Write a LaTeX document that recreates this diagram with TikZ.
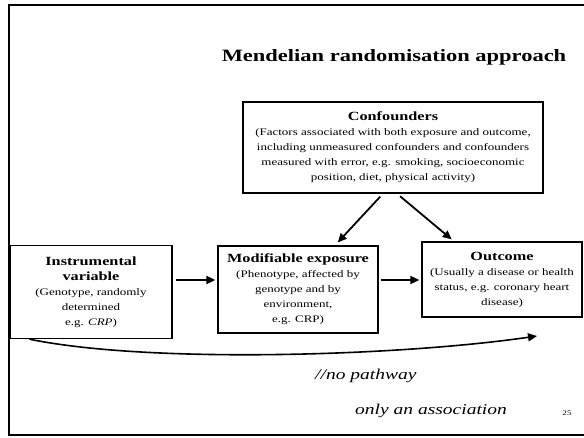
\documentclass[tikz,border=0pt]{standalone}
\usepackage{fontspec}
\setmainfont[FakeStretch=1.3]{Liberation Serif}
\usetikzlibrary{arrows.meta}
\begin{document}
\begin{tikzpicture}[x=1pt,y=-1pt,
  box/.style={draw, line width=1.3pt, align=center, inner sep=0pt, font=\fontsize{10}{15}\selectfont},
  bt/.style={},
  arr/.style={line width=1.8pt, -{Triangle[length=9pt,width=8pt]}},
  hand/.style={font=\fontsize{15}{18}\selectfont\itshape, inner sep=0pt}]
\useasboundingbox (0,0) rectangle (584,438);
\draw[line width=2pt] (584,5) -- (9,5) -- (9,435) -- (584,435);
\node[font=\fontsize{17.3}{20}\selectfont\bfseries] (title) at (394,57) {Mendelian randomisation approach};
\node[box, minimum width=300pt, minimum height=91pt] (conf) at (393,147.5)
  {{\fontsize{12.5}{16}\selectfont\bfseries Confounders}\\
   (Factors associated with both exposure and outcome,\\
   including unmeasured confounders and confounders\\
   measured with error, e.g. smoking, socioeconomic\\
   position, diet, physical activity)};
\node[box, minimum width=162pt, minimum height=93pt] (inst) at (91,292)
  {{\fontsize{12.5}{16}\selectfont\bfseries Instrumental}\\
   {\fontsize{12.5}{16}\selectfont\bfseries variable}\\
   (Genotype, randomly\\ determined\\ e.g. \textit{CRP})};
\node[box, minimum width=160pt, minimum height=87pt] (mod) at (298,289.5)
  {{\fontsize{12.5}{16}\selectfont\bfseries Modifiable exposure}\\
   (Phenotype, affected by\\ genotype and by\\ environment,\\ e.g. CRP)};
\node[box, minimum width=160pt, minimum height=75pt] (out) at (502,279.5)
  {{\fontsize{12.5}{16}\selectfont\bfseries Outcome}\\
   (Usually a disease or health\\ status, e.g. coronary heart\\ disease)};
\coordinate (row) at (0,280);
\draw[arr, shorten <=3pt, shorten >=2pt] (inst.east |- row) -- (mod.west |- row);
\draw[arr, shorten <=2pt, shorten >=2pt] (mod.east |- row) -- (out.west |- row);
\draw[arr, shorten <=4pt, shorten >=4pt] ([xshift=-10pt]conf.south) -- ([xshift=37pt]mod.north);
\draw[arr, shorten <=4pt, shorten >=3pt] ([xshift=4pt]conf.south) -- ([xshift=-48pt]out.north);
\coordinate (cs) at ([xshift=20pt]inst.south west);
\coordinate (ce) at (537,336);
\draw[arr, line width=1.6pt] (cs) .. controls (150,364) and (400,356) .. (ce);
\node[hand, anchor=base west] (h1) at (315,380) {//no pathway};
\node[hand, anchor=base west] (h2) at (355,414) {only an association};
\node[font=\fontsize{7}{8}\selectfont] (pg) at (567,413) {25};
\end{tikzpicture}
\end{document}
